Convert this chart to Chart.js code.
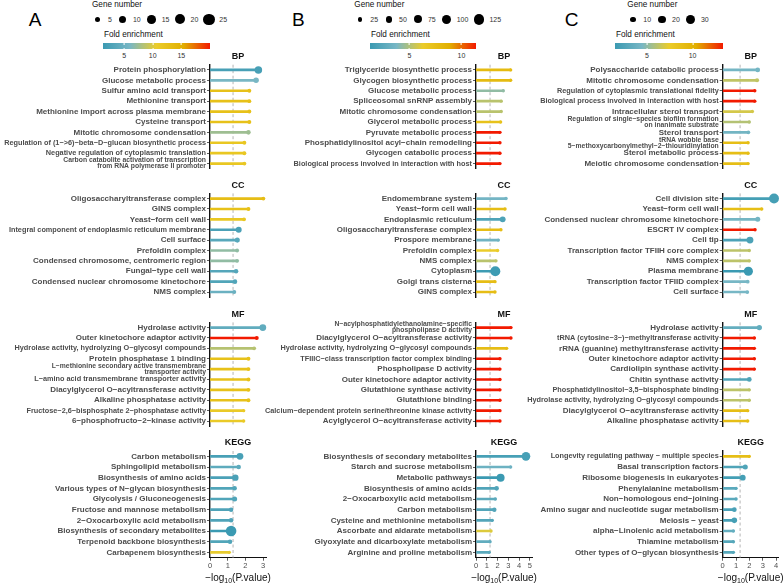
<!DOCTYPE html>
<html>
<head>
<meta charset="utf-8">
<script src="https://cdn.jsdelivr.net/npm/chart.js@4.4.1/dist/chart.umd.min.js"></script>
<style>
  body { margin: 0; background: #fff; width: 784px; height: 585px; overflow: hidden; position: relative;
         font-family: 'Liberation Sans', Arial, Helvetica, sans-serif; }
  canvas { position: absolute; }
  .abs { position: absolute; white-space: nowrap; line-height: 1; }
  .letter { font-size: 19px; color: #000; transform: translate(-50%, -50%); }
  .ttl { font-size: 8.2px; color: #111; transform: translateY(-50%); }
  .keys { position: absolute; display: flex; align-items: center; height: 14px; transform: translateY(-50%); }
  .key { width: 11.5px; display: flex; justify-content: center; align-items: center; }
  .key span { background: #000; border-radius: 50%; display: block; }
  .klab { font-size: 7px; color: #333; margin: 0 5px 0 4.5px; line-height: 1; }
  .cbar { position: absolute; height: 6px; }
  .cbar i { position: absolute; width: 0.8px; height: 1.3px; background: #fff; transform: translateX(-50%); }
  .blab { font-size: 7px; color: #333; transform: translate(-50%, -50%); }
</style>
</head>
<body>
<script>
const FONT = "'Liberation Sans', Arial, Helvetica, sans-serif";
const groupNames = ['BP', 'CC', 'MF', 'KEGG'];
const zissou = ['#3B9AB2', '#78B7C5', '#EBCC2A', '#E1AF00', '#F21A00'];
const pCutoff = 0.05;

// ---- Panel A ----
const A_terms = [
  'Protein phosphorylation', 'Glucose metabolic process', 'Sulfur amino acid transport', 'Methionine transport',
  'Methionine import across plasma membrane', 'Cysteine transport', 'Mitotic chromosome condensation',
  'Regulation of (1−>6)−beta−D−glucan biosynthetic process', 'Negative regulation of cytoplasmic translation',
  'Carbon catabolite activation of transcription\nfrom RNA polymerase II promoter',
  'Oligosaccharyltransferase complex', 'GINS complex', 'Yeast−form cell wall',
  'Integral component of endoplasmic reticulum membrane', 'Cell surface', 'Prefoldin complex',
  'Condensed chromosome, centromeric region', 'Fungal−type cell wall', 'Condensed nuclear chromosome kinetochore', 'NMS complex',
  'Hydrolase activity', 'Outer kinetochore adaptor activity', 'Hydrolase activity, hydrolyzing O−glycosyl compounds',
  'Protein phosphatase 1 binding', 'L−methionine secondary active transmembrane\ntransporter activity',
  'L−amino acid transmembrane transporter activity', 'Diacylglycerol O−acyltransferase activity',
  'Alkaline phosphatase activity', 'Fructose−2,6−bisphosphate 2−phosphatase activity', '6−phosphofructo−2−kinase activity',
  'Carbon metabolism', 'Sphingolipid metabolism', 'Biosynthesis of amino acids', 'Various types of N−glycan biosynthesis',
  'Glycolysis / Gluconeogenesis', 'Fructose and mannose metabolism', '2−Oxocarboxylic acid metabolism',
  'Biosynthesis of secondary metabolites', 'Terpenoid backbone biosynthesis', 'Carbapenem biosynthesis'
];
const A_logp = [2.73, 2.6, 2.22, 2.22, 2.22, 2.22, 2.17, 1.94, 1.94, 1.94,
                3.01, 2.17, 1.92, 1.62, 1.54, 1.53, 1.53, 1.47, 1.41, 1.37,
                2.98, 2.64, 2.49, 2.17, 2.17, 2.17, 2.17, 2.17, 1.9, 1.9,
                1.69, 1.62, 1.43, 1.39, 1.39, 1.19, 1.19, 1.19, 1.13, 1.09];
const A_genes = [11, 6, 3, 3, 3, 3, 4, 3, 3, 3,
                 3, 3, 3, 7, 5, 3, 3, 4, 4, 3,
                 9, 3, 3, 3, 3, 3, 3, 3, 2, 2,
                 9, 4, 8, 4, 5, 4, 4, 22, 4, 1];
const A_fold = [2.3, 6.0, 12.5, 12.5, 12.5, 12.5, 7.5, 11.5, 11.5, 11.5,
                13, 12.5, 11.5, 2.5, 3.5, 7, 7, 3.3, 3, 5,
                4.2, 20, 8.5, 12.5, 12.5, 12.5, 12.5, 12.5, 11, 11,
                2.3, 4, 2.5, 3, 3, 2.8, 2.8, 1.3, 3, 10.5];
const A_xTicks = [0, 1, 2, 3];
const A_geneKeys = [5, 10, 15, 20, 25];
const A_foldTicks = [5, 10, 15];

// ---- Panel B ----
const B_terms = [
  'Triglyceride biosynthetic process', 'Glycogen biosynthetic process', 'Glucose metabolic process',
  'Spliceosomal snRNP assembly', 'Mitotic chromosome condensation', 'Glycerol metabolic process',
  'Pyruvate metabolic process', 'Phosphatidylinositol acyl−chain remodeling', 'Glycogen catabolic process',
  'Biological process involved in interaction with host',
  'Endomembrane system', 'Yeast−form cell wall', 'Endoplasmic reticulum', 'Oligosaccharyltransferase complex',
  'Prospore membrane', 'Prefoldin complex', 'NMS complex', 'Cytoplasm', 'Golgi trans cisterna', 'GINS complex',
  'N−acylphosphatidylethanolamine−specific\nphospholipase D activity', 'Diacylglycerol O−acyltransferase activity',
  'Hydrolase activity, hydrolyzing O−glycosyl compounds', 'TFIIIC−class transcription factor complex binding',
  'Phospholipase D activity', 'Outer kinetochore adaptor activity', 'Glutathione synthase activity',
  'Glutathione binding', 'Calcium−dependent protein serine/threonine kinase activity', 'Acylglycerol O−acyltransferase activity',
  'Biosynthesis of secondary metabolites', 'Starch and sucrose metabolism', 'Metabolic pathways',
  'Biosynthesis of amino acids', '2−Oxocarboxylic acid metabolism', 'Carbon metabolism',
  'Cysteine and methionine metabolism', 'Ascorbate and aldarate metabolism',
  'Glyoxylate and dicarboxylate metabolism', 'Arginine and proline metabolism'
];
const B_logp = [3.21, 3.21, 2.53, 2.34, 2.34, 2.28, 2.22, 2.22, 2.22, 2.22,
                2.78, 2.69, 2.47, 2.31, 2.07, 2.0, 1.85, 1.79, 1.76, 1.76,
                3.24, 3.24, 2.84, 2.22, 2.22, 2.22, 2.22, 2.22, 2.22, 2.22,
                4.63, 3.21, 2.28, 1.91, 1.79, 1.70, 1.51, 1.39, 1.30, 1.23];
const B_genes = [8, 8, 12, 10, 9, 8, 2, 2, 2, 2,
                 14, 5, 40, 5, 12, 5, 5, 113, 3, 3,
                 2, 2, 8, 2, 2, 2, 2, 2, 2, 2,
                 85, 12, 72, 24, 14, 22, 13, 2, 8, 9];
const B_fold = [7.8, 7.8, 4.3, 5.2, 5.2, 7.2, 11.4, 11.4, 11.4, 11.4,
                3.6, 7.6, 2.0, 7.6, 3.4, 6.3, 5.2, 1.3, 7.6, 7.6,
                11.4, 11.4, 7.6, 11.4, 11.4, 11.4, 11.4, 11.4, 11.4, 11.4,
                1.7, 3.3, 1.2, 2.1, 2.6, 2.2, 2.2, 6.0, 2.8, 2.5];
const B_xTicks = [0, 1, 2, 3, 4, 5];
const B_geneKeys = [25, 50, 75, 100, 125];
const B_foldTicks = [5, 10];

// ---- Panel C ----
const C_terms = [
  'Polysaccharide catabolic process', 'Mitotic chromosome condensation', 'Regulation of cytoplasmic translational fidelity',
  'Biological process involved in interaction with host', 'Intracellular sterol transport',
  'Regulation of single−species biofilm formation\non inanimate substrate', 'Sterol transport',
  'tRNA wobble base\n5−methoxycarbonylmethyl−2−thiouridinylation', 'Sterol metabolic process', 'Meiotic chromosome condensation',
  'Cell division site', 'Yeast−form cell wall', 'Condensed nuclear chromosome kinetochore', 'ESCRT IV complex', 'Cell tip',
  'Transcription factor TFIIH core complex', 'NMS complex', 'Plasma membrane', 'Transcription factor TFIID complex', 'Cell surface',
  'Hydrolase activity', 'tRNA (cytosine−3−)−methyltransferase activity', 'rRNA (guanine) methyltransferase activity',
  'Outer kinetochore adaptor activity', 'Cardiolipin synthase activity', 'Chitin synthase activity',
  'Phosphatidylinositol−3,5−bisphosphate binding', 'Hydrolase activity, hydrolyzing O−glycosyl compounds',
  'Diacylglycerol O−acyltransferase activity', 'Alkaline phosphatase activity',
  'Longevity regulating pathway − multiple species', 'Basal transcription factors', 'Ribosome biogenesis in eukaryotes',
  'Phenylalanine metabolism', 'Non−homologous end−joining', 'Amino sugar and nucleotide sugar metabolism',
  'Meiosis − yeast', 'alpha−Linolenic acid metabolism', 'Thiamine metabolism', 'Other types of O−glycan biosynthesis'
];
const C_logp = [2.62, 2.57, 2.4, 2.4, 2.22, 1.99, 1.92, 1.9, 1.9, 1.9,
                3.84, 2.92, 2.62, 2.42, 2.04, 1.99, 1.99, 1.92, 1.87, 1.84,
                2.74, 2.37, 2.37, 2.37, 2.37, 1.99, 1.99, 1.99, 1.87, 1.87,
                1.99, 1.69, 1.5, 1.0, 1.0, 0.87, 0.87, 0.8, 0.8, 0.8];
const C_genes = [8, 6, 2, 2, 4, 4, 5, 2, 2, 2,
                 35, 3, 9, 2, 17, 3, 3, 30, 5, 5,
                 10, 2, 2, 2, 2, 8, 3, 3, 2, 2,
                 2, 9, 12, 2, 2, 8, 11, 2, 2, 2];
const C_fold = [4.3, 6.3, 13.3, 13.3, 6.8, 6.0, 4.2, 8.8, 8.8, 8.8,
                2.0, 8.8, 4.2, 13.3, 2.3, 6.2, 6.2, 1.5, 4.4, 4.4,
                3.5, 13.3, 13.3, 13.3, 13.3, 2.5, 6.2, 6.2, 8.8, 8.8,
                8.8, 2.5, 2.0, 3.0, 3.0, 2.2, 2.0, 3.5, 2.8, 2.8];
const C_xTicks = [0, 1, 2, 3, 4];
const C_geneKeys = [10, 20, 30];
const C_foldTicks = [5, 10];

// layout (page pixels)
const panels = [
  { letter: 'A', terms: A_terms, logp: A_logp, genes: A_genes, fold: A_fold, xTicks: A_xTicks,
    geneKeys: A_geneKeys, foldTicks: A_foldTicks,
    left: 0, axisX: 210, xMax: 3.16, rScale: 1.13, letterX: 35, keysLeft: 92, barLeft: 103 },
  { letter: 'B', terms: B_terms, logp: B_logp, genes: B_genes, fold: B_fold, xTicks: B_xTicks,
    geneKeys: B_geneKeys, foldTicks: B_foldTicks,
    left: 262, axisX: 476, xMax: 5.19, rScale: 0.47, letterX: 298.3, keysLeft: 354.3, barLeft: 370 },
  { letter: 'C', terms: C_terms, logp: C_logp, genes: C_genes, fold: C_fold, xTicks: C_xTicks,
    geneKeys: C_geneKeys, foldTicks: C_foldTicks,
    left: 524, axisX: 722.7, xMax: 4.19, rScale: 0.84, letterX: 571.7, keysLeft: 627.3, barLeft: 615 }
];
const ROW_H = 10.67;
const AREA_TOP = [64.7, 193.4, 322.4, 451.0];
const PLOT_W = 56;

function hexRgb(h) { return [1, 3, 5].map(i => parseInt(h.slice(i, i + 2), 16)); }
function foldColor(v, min, max) {
  const t = Math.max(0, Math.min(1, (v - min) / (max - min))) * (zissou.length - 1);
  const i = Math.min(Math.floor(t), zissou.length - 2);
  const f = t - i;
  const a = hexRgb(zissou[i]), b = hexRgb(zissou[i + 1]);
  return 'rgb(' + a.map((c, k) => Math.round(c + (b[k] - c) * f)).join(',') + ')';
}

const measureCtx = document.createElement('canvas').getContext('2d');
function fitFont(label, avail) {
  const lines = Array.isArray(label) ? label : [label];
  measureCtx.font = 'bold 10px ' + FONT;
  const w = Math.max(...lines.map(l => measureCtx.measureText(l).width));
  const longest = Math.max(...lines.map(l => l.length));
  let cap = lines.length > 1 ? 6.8 : (longest > 44 ? 7.3 : 8);
  return { family: FONT, weight: 'bold', size: Math.min(cap, avail * 10 / w), lineHeight: lines.length > 1 ? 0.88 : 1.2 };
}

const panelDecor = {
  id: 'panelDecor',
  beforeDatasetsDraw(chart, args, opts) {
    const { ctx, chartArea, scales } = chart;
    const px = scales.x.getPixelForValue(-Math.log10(pCutoff));
    ctx.save();
    ctx.strokeStyle = '#b4b4b4';
    ctx.lineWidth = 1;
    ctx.setLineDash([3, 2.5]);
    ctx.beginPath();
    ctx.moveTo(px, chartArea.top);
    ctx.lineTo(px, chartArea.bottom);
    ctx.stroke();
    ctx.restore();
  },
  afterDraw(chart, args, opts) {
    const { ctx, chartArea } = chart;
    const cx = (chartArea.left + chartArea.right) / 2;
    ctx.save();
    ctx.fillStyle = '#111';
    ctx.font = 'bold 9px ' + FONT;
    ctx.textAlign = 'center';
    ctx.textBaseline = 'middle';
    ctx.fillText(opts.title, cx, chartArea.top - 8);
    if (opts.axisTitle) {
      const big = '10px ' + FONT, small = '7px ' + FONT;
      const parts = [['−log', big, 0], ['10', small, 2.5], ['(P.value)', big, 0]];
      ctx.textAlign = 'left';
      ctx.textBaseline = 'alphabetic';
      let total = 0;
      parts.forEach(p => { ctx.font = p[1]; total += ctx.measureText(p[0]).width; });
      let x = cx - total / 2;
      const base = chart.height - 8 + 3.6;
      parts.forEach(p => { ctx.font = p[1]; ctx.fillText(p[0], x, base + p[2]); x += ctx.measureText(p[0]).width; });
    }
    ctx.restore();
  }
};

function addEl(cls, left, top, text) {
  const d = document.createElement('div');
  d.className = cls;
  d.style.left = left + 'px';
  d.style.top = top + 'px';
  if (text !== undefined) d.textContent = text;
  document.body.appendChild(d);
  return d;
}

panels.forEach(p => {
  const fMin = Math.min(...p.fold), fMax = Math.max(...p.fold);
  const radius = n => p.rScale * Math.sqrt(n);

  // legends
  addEl('abs letter', p.letterX, 19.3, p.letter);
  addEl('abs ttl', p.keysLeft, 5, 'Gene number');
  const keys = addEl('keys', p.keysLeft, 19.3);
  p.geneKeys.forEach(n => {
    const k = document.createElement('div');
    k.className = 'key';
    const dot = document.createElement('span');
    dot.style.width = dot.style.height = (2 * radius(n)) + 'px';
    k.appendChild(dot);
    keys.appendChild(k);
    const l = document.createElement('div');
    l.className = 'klab';
    l.textContent = n;
    keys.appendChild(l);
  });
  addEl('abs ttl', p.barLeft + 1, 35, 'Fold enrichment');
  const barW = p.axisX - p.barLeft;
  const bar = addEl('cbar', p.barLeft, 43.3);
  bar.style.width = barW + 'px';
  bar.style.background = 'linear-gradient(to right,' + zissou.map((c, i) => c + ' ' + (i * 25) + '%').join(',') + ')';
  p.foldTicks.forEach(v => {
    const x = (v - fMin) / (fMax - fMin) * barW;
    ['0px', '4.7px'].forEach(t => {
      const m = document.createElement('i');
      m.style.left = x + 'px';
      m.style.top = t;
      bar.appendChild(m);
    });
    addEl('abs blab', p.barLeft + x, 55.3, v);
  });

  // sub-panels
  const yW = p.axisX - p.left;
  const width = Math.ceil(yW + PLOT_W + 8);
  groupNames.forEach((g, gi) => {
    const s = gi * 10, e = s + 10;
    const labels = p.terms.slice(s, e).map(t => t.includes('\n') ? t.split('\n') : t);
    const vals = p.logp.slice(s, e);
    const colors = p.fold.slice(s, e).map(f => foldColor(f, fMin, fMax));
    const radii = p.genes.slice(s, e).map(n => Math.max(1.7, radius(n)));
    const last = gi === groupNames.length - 1;
    const areaTop = AREA_TOP[gi];
    const areaH = ROW_H * 10;
    const canvasTop = Math.floor(areaTop - 13);
    const padTop = areaTop - canvasTop;
    const height = last ? 585 - canvasTop : Math.ceil(padTop + areaH + 2);
    const xAxisH = height - padTop - areaH;

    const cv = document.createElement('canvas');
    cv.width = width;
    cv.height = height;
    cv.style.left = p.left + 'px';
    cv.style.top = canvasTop + 'px';
    cv.style.width = width + 'px';
    cv.style.height = height + 'px';
    document.body.appendChild(cv);

    new Chart(cv, {
      type: 'bar',
      data: {
        labels,
        datasets: [
          { type: 'bar', data: vals, backgroundColor: colors, barThickness: 2, borderWidth: 0 },
          { type: 'scatter', data: vals.map((v, i) => ({ x: v, y: i })), backgroundColor: colors,
            pointRadius: radii, pointBorderWidth: 0, borderWidth: 0, clip: false }
        ]
      },
      options: {
        responsive: false,
        animation: false,
        indexAxis: 'y',
        events: [],
        layout: { padding: { top: padTop, left: 0, right: width - yW - PLOT_W, bottom: last ? 0 : height - padTop - areaH } },
        plugins: {
          legend: { display: false },
          tooltip: { enabled: false },
          panelDecor: { title: g, axisTitle: last }
        },
        scales: {
          y: {
            type: 'category', offset: true,
            grid: { offset: false, drawOnChartArea: false, drawTicks: true, tickLength: 3, color: '#333', tickWidth: 0.8 },
            border: { display: true, color: '#111', width: 1.4 },
            ticks: { autoSkip: false, padding: 1, color: '#4d4d4d', font: ctx => fitFont(ctx.tick.label, yW - 6) },
            afterFit(scale) { scale.width = yW; scale.paddingTop = 0; scale.paddingBottom = 0; }
          },
          x: {
            type: 'linear', min: 0, max: p.xMax, display: last,
            grid: { drawOnChartArea: false, drawTicks: true, tickLength: 3, color: '#333', tickWidth: 0.8 },
            border: { display: true, color: '#111', width: 1 },
            ticks: { padding: 1, color: '#4d4d4d', font: { family: FONT, size: 7.5 } },
            afterBuildTicks(scale) { scale.ticks = p.xTicks.map(v => ({ value: v })); },
            afterFit(scale) { scale.height = xAxisH; scale.paddingLeft = 0; scale.paddingRight = 0; }
          }
        }
      },
      plugins: [panelDecor]
    });
  });
});
</script>
</body>
</html>
